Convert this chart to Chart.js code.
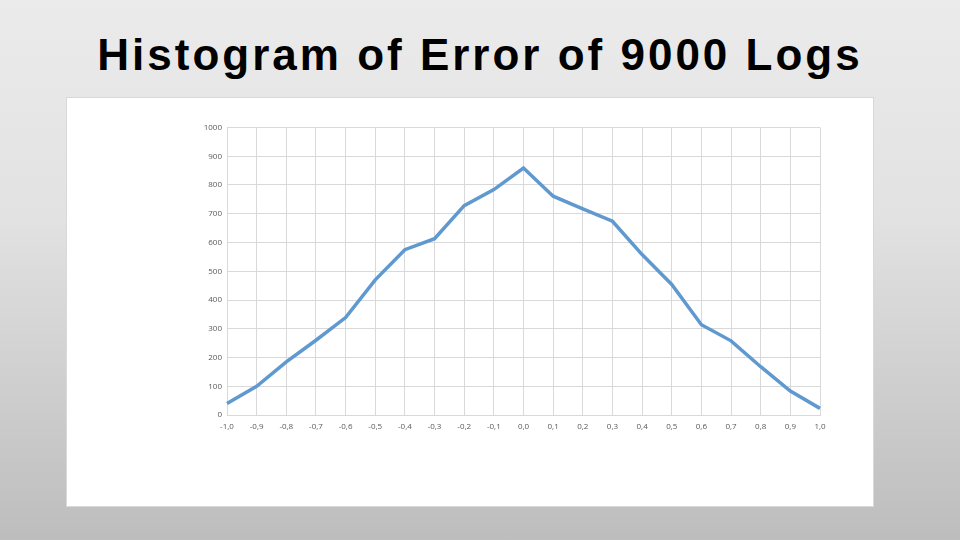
<!DOCTYPE html>
<html>
<head>
<meta charset="utf-8">
<script src="https://cdn.jsdelivr.net/npm/chart.js@4/dist/chart.umd.min.js"></script>
<style>
html,body{margin:0;padding:0;width:960px;height:540px;overflow:hidden;}
body{background:linear-gradient(to bottom,#ebebeb 0%,#e2e2e2 40%,#bdbdbd 100%);position:relative;font-family:"Liberation Sans",Arial,sans-serif;}
#title{position:absolute;left:0;top:29px;width:960px;text-align:center;font-family:"Liberation Sans",Arial,sans-serif;font-weight:bold;font-size:44px;line-height:52px;color:#000;letter-spacing:3px;margin:0;}
#box{position:absolute;left:66px;top:97px;width:806px;height:408px;background:#fff;border:1px solid #d9d9d9;}
#c{position:absolute;left:0;top:0;}
</style>
</head>
<body>
<div id="title">Histogram of Error of 9000 Logs</div>
<div id="box"><canvas id="c" width="806" height="408"></canvas></div>
<script>
const categories = ["-1,0","-0,9","-0,8","-0,7","-0,6","-0,5","-0,4","-0,3","-0,2","-0,1","0,0","0,1","0,2","0,3","0,4","0,5","0,6","0,7","0,8","0,9","1,0"];
const counts = [40,100,185,260,339,470,575,613,728,784,859,761,717,674,558,454,314,258,168,83,23];
const yTicks = [0,100,200,300,400,500,600,700,800,900,1000];

new Chart(document.getElementById('c'), {
  type: 'line',
  data: {
    labels: categories,
    datasets: [{
      data: counts,
      borderColor: '#5f99cf',
      borderWidth: 3.5,
      pointRadius: 0,
      tension: 0,
      fill: false
    }]
  },
  options: {
    responsive: false,
    animation: false,
    devicePixelRatio: 1,
    layout: { padding: { left: 129, right: 53, top: 29.5, bottom: 71 } },
    plugins: { legend: { display: false }, tooltip: { enabled: false } },
    scales: {
      x: {
        type: 'category',
        offset: false,
        grid: { color: '#d9d9d9', lineWidth: 1, drawTicks: false },
        border: { color: '#d9d9d9' },
        ticks: { color: '#595959', font: { family: 'Open Sans', size: 8 }, padding: 7, maxRotation: 0, autoSkip: false },
        afterFit: s => { s.height = 20; }
      },
      y: {
        min: 0, max: 1000,
        afterBuildTicks: s => { s.ticks = yTicks.map(v => ({ value: v })); },
        grid: { color: '#d9d9d9', lineWidth: 1, drawTicks: false },
        border: { display: false },
        ticks: { color: '#595959', font: { family: 'Open Sans', size: 8 }, padding: 5, callback: v => String(v) },
        afterFit: s => { s.width = 31; }
      }
    }
  }
});
</script>
</body>
</html>
